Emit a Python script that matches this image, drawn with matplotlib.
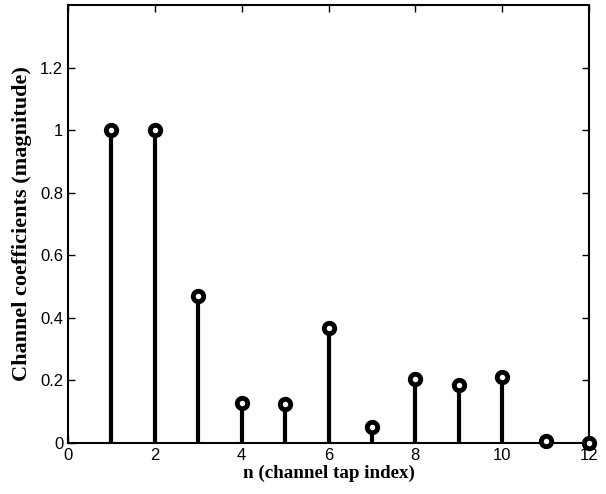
import matplotlib.pyplot as plt

n = [1, 2, 3, 4, 5, 6, 7, 8, 9, 10, 11, 12]
h = [1.0, 1.0, 0.47, 0.128, 0.125, 0.367, 0.05, 0.205, 0.185, 0.21, 0.005, 0.0]

fig = plt.figure(figsize=(6.06, 4.94), dpi=100)
ax = fig.add_axes([0.1122, 0.1032, 0.8598, 0.8868])

markers, stems, base = ax.stem(n, h, linefmt='k-', markerfmt='ko', basefmt=' ')
plt.setp(stems, linewidth=3)
plt.setp(markers, markersize=7.5, markerfacecolor='white', markeredgecolor='black',
         markeredgewidth=3.5, zorder=3, clip_on=False)

ax.set_xlim(0, 12)
ax.set_ylim(0, 1.4)
ax.set_xticks(range(0, 13, 2))
ax.set_xticklabels([str(t) for t in range(0, 13, 2)])
ax.set_yticks([0, 0.2, 0.4, 0.6, 0.8, 1.0, 1.2])
ax.set_yticklabels(['0', '0.2', '0.4', '0.6', '0.8', '1', '1.2'])
ax.tick_params(direction='in', top=True, right=True, length=5, width=1,
               labelsize=12)
for lab in ax.get_xticklabels() + ax.get_yticklabels():
    lab.set_family('Liberation Sans')
for s in ax.spines.values():
    s.set_linewidth(1.5)

ax.set_xlabel('n (channel tap index)', fontsize=13.7, fontweight='bold',
              family='Liberation Serif', labelpad=1)
ax.set_ylabel('Channel coefficients (magnitude)', fontsize=16, fontweight='bold',
              family='Liberation Serif', labelpad=6)

fig.savefig('out.png', dpi=100)
